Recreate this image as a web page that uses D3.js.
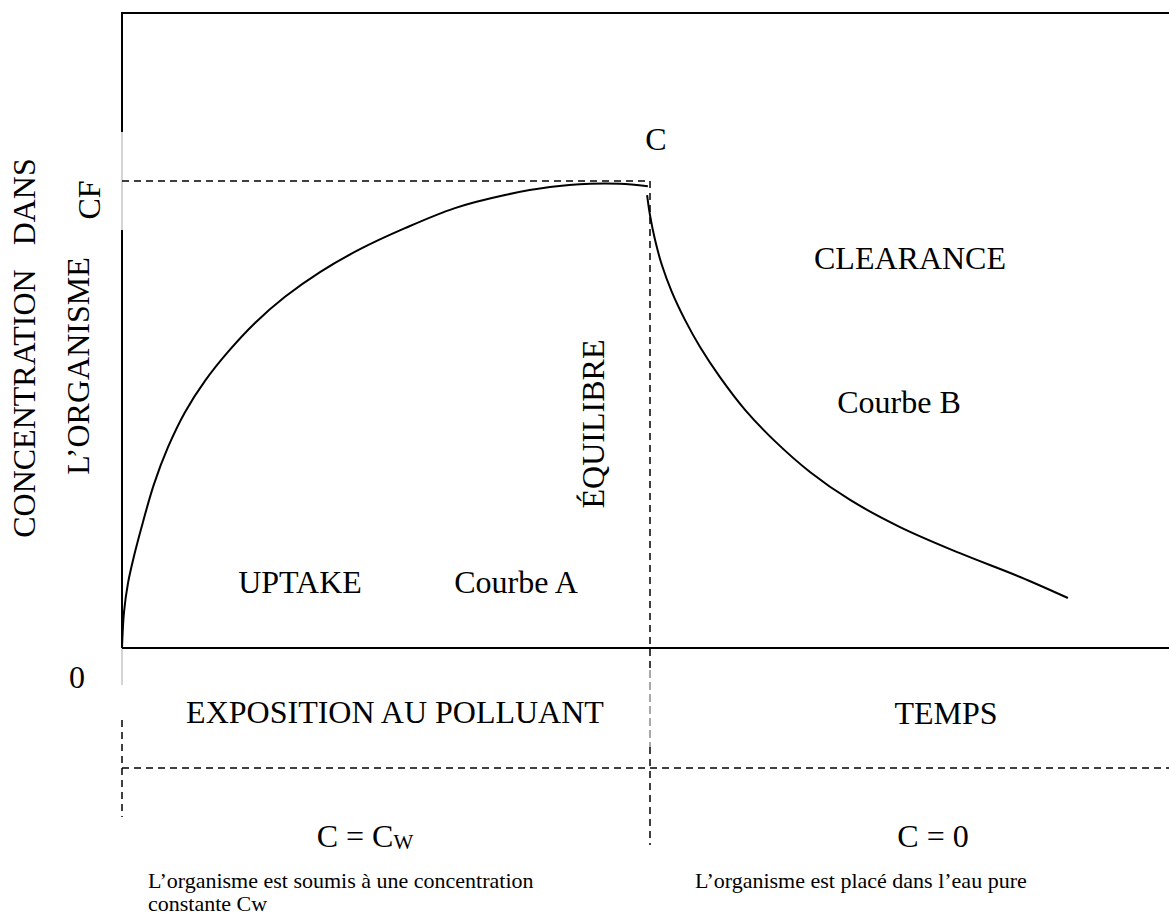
<!DOCTYPE html>
<html>
  <head>
    <meta charset="utf-8">
    <title></title>
    <script type="text/javascript" src="https://cdn.jsdelivr.net/npm/d3@7"></script>
    <style media="screen">
      body { margin: 0; background: #fff; }
      text { font-family: "Liberation Serif", "Times New Roman", serif; fill: #000; }
    </style>
  </head>
  <body>
    <script type="text/javascript">
      var w = 1169;
      var h = 917;

      // courbe A : uptake (temps, concentration en % de CF)
      var uptakeTime = [0, 0.076, 0.227, 0.455, 0.795, 1.212, 1.742, 2.386, 3.144, 4.015, 5.038, 6.174, 7.5, 9.015, 10.72, 12.61, 14.51, 16.21, 17.73, 18.86, 19.92];
      var uptakeConc = [0, 7.7, 13.9, 19.7, 27.0, 35.1, 43.0, 50.5, 57.2, 63.4, 69.6, 75.2, 80.5, 85.4, 89.9, 94.2, 97.0, 98.7, 99.4, 99.4, 98.9];
      // courbe B : clearance
      var clearTime = [19.89, 20.0, 20.19, 20.45, 20.83, 21.33, 21.89, 22.65, 23.60, 24.73, 26.06, 27.58, 29.47, 31.74, 34.02, 35.83];
      var clearConc = [97.0, 92.7, 87.4, 82.0, 76.2, 70.2, 64.5, 58.0, 51.0, 44.3, 37.7, 31.7, 25.9, 20.3, 15.2, 10.7];

      var cfLevel = 100;
      var tEquilibre = 20;
      var yTickLabels = ["0", "CF"];
      var yTitle = ["CONCENTRATION\u00a0\u00a0 DANS", "L\u2019ORGANISME"];
      var zoneLabels = ["UPTAKE", "Courbe A", "CLEARANCE", "Courbe B", "\u00c9QUILIBRE", "C"];
      var phaseLabels = ["EXPOSITION AU POLLUANT", "TEMPS"];
      var notes = ["L\u2019organisme est soumis \u00e0 une concentration", "constante Cw", "L\u2019organisme est plac\u00e9 dans l\u2019eau pure"];

      var uptake = uptakeTime.map(function(t, i) { return {t: t, c: uptakeConc[i]}; });
      var clearance = clearTime.map(function(t, i) { return {t: t, c: clearConc[i]}; });

      var x = d3.scaleLinear().domain([0, 40]).range([122, 1178]);
      var y = d3.scaleLinear().domain([0, 100]).range([648, 181]);

      var svg = d3.select('body')
        .append('svg')
        .attr('width', w)
        .attr('height', h);

      var x0 = x(0), xe = x(tEquilibre), y0 = y(0), ycf = y(cfLevel);

      function seg(x1, y1, x2, y2, sw, col, dash) {
        var l = svg.append('line')
          .attr('x1', x1).attr('y1', y1).attr('x2', x2).attr('y2', y2)
          .attr('stroke', col || '#000').attr('stroke-width', sw);
        if (dash) l.attr('stroke-dasharray', dash);
        return l;
      }

      // cadre et axes
      seg(x0, 13, w, 13, 2);
      seg(x0, 12, x0, 132, 2);
      seg(x0, 132, x0, 230, 1, '#aaa');
      seg(x0, 230, x0, y0, 2);
      seg(x0, y0, x0, 685, 1, '#aaa');
      seg(x0, y0, w, y0, 2);

      // lignes pointillees
      seg(x0, ycf, xe, ycf, 1.5, '#000', '7,5');
      seg(xe, ycf, xe, 670, 1.5, '#000', '7,5');
      seg(xe, 670, xe, 747, 1, '#555', '8,4');
      seg(xe, 747, xe, 845, 1.5, '#000', '7,5');
      seg(x0, 768, w, 768, 1.5, '#000', '7,5');
      seg(x0, 720, x0, 817, 1.5, '#000', '7,5');

      var line = d3.line()
        .x(function(d) { return x(d.t); })
        .y(function(d) { return y(d.c); })
        .curve(d3.curveCatmullRom.alpha(0.5));

      svg.append('path').datum(uptake)
        .attr('d', line).attr('fill', 'none').attr('stroke', '#000').attr('stroke-width', 2);
      svg.append('path').datum(clearance)
        .attr('d', line).attr('fill', 'none').attr('stroke', '#000').attr('stroke-width', 2);

      function label(txt, px, py, size, anchor, rot) {
        var t = svg.append('text')
          .attr('text-anchor', anchor || 'middle')
          .style('font-size', size + 'px')
          .text(txt);
        if (rot) t.attr('transform', 'translate(' + px + ',' + py + ') rotate(-90)');
        else t.attr('x', px).attr('y', py);
        return t;
      }

      var fs = 32;
      // axe vertical
      label(yTickLabels[0], 77, 688, fs);
      label(yTickLabels[1], 100, 200, fs, 'middle', true);
      label(yTitle[0], 35, 348, fs, 'middle', true);
      label(yTitle[1], 89, 366, fs, 'middle', true);

      // zones
      label(zoneLabels[0], 300, 593, fs);
      label(zoneLabels[1], 516, 593, fs);
      label(zoneLabels[2], 910, 269, fs);
      label(zoneLabels[3], 899, 413, fs);
      label(zoneLabels[4], 604, 424, fs, 'middle', true);
      label(zoneLabels[5], 656, 150, fs);

      // bandeau du bas
      label(phaseLabels[0], 395, 723, fs);
      label(phaseLabels[1], 946, 724, fs);

      var cw = label('C = C', 365, 847, fs);
      cw.append('tspan').attr('dy', 2).style('font-size', '21px').text('W');
      label('C = 0', 933, 847, fs);

      label(notes[0], 148, 888, 22, 'start');
      label(notes[1], 148, 911, 22, 'start');
      label(notes[2], 695, 888, 22, 'start');
    </script>
  </body>
</html>
